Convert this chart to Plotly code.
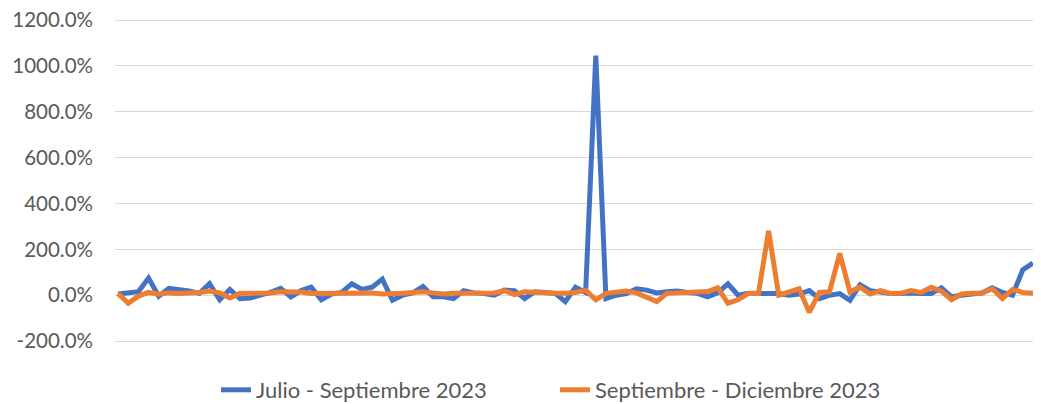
import plotly.graph_objects as go

julio_sep = [5, 10, 15, 75, -5, 30, 25, 18, 8, 50,
             -20, 25, -15, -12, 0, 12, 30, -8, 20, 35,
             -20, 5, 12, 50, 25, 35, 70, -22, 0, 10,
             38, -7, -7, -15, 20, 10, 7, 0, 22, 20,
             -15, 15, 12, 8, -28, 35, 12, 1045, -15, 0,
             7, 28, 22, 10, 15, 18, 12, 8, -7, 10,
             50, 0, 8, 8, 8, 7, 0, 5, 20, -15,
             0, 7, -22, 45, 20, 12, 7, 7, 10, 7,
             7, 32, -7, 0, 7, 10, 32, 12, 0, 110,
             140]

sep_dic = [8, -35, -4, 12, 4, 10, 7, 7, 12, 18,
           10, -12, 8, 8, 8, 10, 15, 14, 14, 7,
           7, 10, 12, 10, 8, 10, 5, 5, 8, 12,
           15, 10, 5, 8, 8, 8, 8, 10, 20, 3,
           15, 12, 8, 8, 8, 12, 22, -20, 8, 12,
           18, 10, -7, -28, 8, 10, 10, 12, 16, 32,
           -35, -20, 7, 7, 280, 0, 12, 28, -75, 12,
           15, 182, 15, 35, 5, 20, 7, 8, 20, 12,
           35, 18, -20, 5, 8, 8, 28, -15, 25, 12,
           8, 5]

categories = list(range(len(sep_dic)))

y_tick_vals = [-200, 0, 200, 400, 600, 800, 1000, 1200]
y_tick_text = ["-200.0%", "0.0%", "200.0%", "400.0%", "600.0%", "800.0%", "1000.0%", "1200.0%"]

series_names = ["Julio - Septiembre 2023", "Septiembre - Diciembre 2023"]
colors = ["#4472C4", "#ED7D31"]

fig = go.Figure()
fig.add_trace(go.Scatter(x=categories[:len(julio_sep)], y=julio_sep, mode="lines",
                         name=series_names[0],
                         line=dict(color=colors[0], width=5)))
fig.add_trace(go.Scatter(x=categories, y=sep_dic, mode="lines",
                         name=series_names[1],
                         line=dict(color=colors[1], width=5)))

font_family = "Lato, Carlito, Calibri, sans-serif"

# The page body has an 8px margin, so the figure is sized to fill the window from (8, 8).
W, H = 1033.0, 396.0
L = 107.0
y_lo, y_hi = -205, 1205
pad_px = 5 * 321.0 / 1400.0
T = 12.0 - pad_px
bottom_px = 333.0 + pad_px
PW, PH = W - L, H - T

fig.update_layout(
    width=int(W), height=int(H),
    margin=dict(l=L, r=0, t=T, b=0, autoexpand=False),
    paper_bgcolor="white", plot_bgcolor="white",
    font=dict(family=font_family, size=20.5, color="#595959"),
    showlegend=True,
    legend=dict(orientation="h", x=(208 - L) / PW, xanchor="left",
                y=(H - 382) / PH, yanchor="middle",
                font=dict(size=22, color="#595959"),
                entrywidth=294, entrywidthmode="pixels",
                traceorder="normal"),
    xaxis=dict(range=[-0.3, 90.8], showticklabels=False, showgrid=False,
               zeroline=False, showline=False, ticks="", automargin=False),
    yaxis=dict(domain=[(H - bottom_px) / PH, 1.0],
               range=[y_lo, y_hi], tickmode="array",
               tickvals=y_tick_vals, ticktext=y_tick_text,
               showgrid=True, gridcolor="#D9D9D9", gridwidth=1.3, zeroline=False,
               showline=False, ticks="", ticklabelstandoff=21, automargin=False,
               ticklabeloverflow="allow"),
)

fig.write_html("out.html")
